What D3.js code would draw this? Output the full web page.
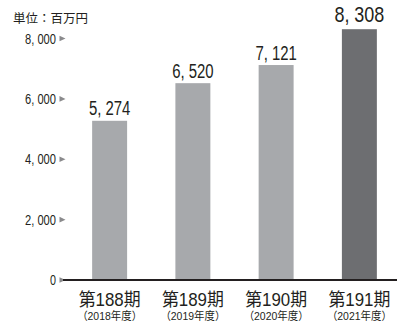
<!DOCTYPE html>
<html><head><meta charset="utf-8">
<script src="https://cdn.jsdelivr.net/npm/d3@7"></script>
<style>
body{margin:0;background:#fff;}
svg{display:block;}
</style></head>
<body>
<svg id="chart" width="397" height="324"></svg>
<script>
const categories = ["第188期","第189期","第190期","第191期"];
const years = ["（2018年度）","（2019年度）","（2020年度）","（2021年度）"];
const values = [5274, 6520, 7121, 8308];
const tickValues = [0, 2000, 4000, 6000, 8000];
const unitLabel = "単位：百万円";

const svg = d3.select("#chart");
const mixed = "'Liberation Sans','Noto Sans CJK JP',sans-serif";
const fmt = v => v === 0 ? "0" : d3.format(",")(v).replace(",", ", ");

const x = d3.scaleBand().domain(categories).range([68, 401]).paddingInner(0.58).paddingOuter(0.29);
const y = d3.scaleLinear().domain([0, 8000]).range([280, 38.5]);

// unit label
svg.append("text").attr("x", 13).attr("y", 23)
  .attr("font-family", "'Noto Sans CJK JP',sans-serif").attr("font-size", 12.5)
  .attr("fill", "#231f20").text(unitLabel);

// y ticks
const tg = svg.append("g").selectAll("g").data(tickValues).join("g")
  .attr("transform", d => `translate(0,${y(d)})`);
tg.append("text").attr("x", 56).attr("y", 5).attr("text-anchor", "end")
  .attr("font-family", mixed).attr("font-size", 14).attr("fill", "#231f20")
  .attr("textLength", d => d === 0 ? 6 : 31).attr("lengthAdjust", "spacingAndGlyphs")
  .text(fmt);
tg.append("path").attr("d", "M59.5,-2.8L65.5,0L59.5,2.8Z").attr("fill", "#8a8a8c");

// bars
svg.append("g").selectAll("rect").data(values).join("rect")
  .attr("x", (d, i) => x(categories[i]))
  .attr("width", x.bandwidth())
  .attr("y", d => y(d))
  .attr("height", d => y(0) - y(d))
  .attr("fill", (d, i) => i === values.length - 1 ? "#6d6e71" : "#a7a9ac");

// value labels
const last = values.length - 1;
svg.append("g").selectAll("text").data(values).join("text")
  .attr("x", (d, i) => x(categories[i]) + x.bandwidth() / 2)
  .attr("y", (d, i) => y(d) - (i === last ? 7 : 5.5))
  .attr("text-anchor", "middle")
  .attr("font-family", mixed)
  .attr("font-size", (d, i) => i === last ? 22 : 19.5)
  .attr("textLength", (d, i) => i === last ? 50 : 41.5)
  .attr("lengthAdjust", "spacingAndGlyphs")
  .attr("fill", "#231f20")
  .text(fmt);

// baseline
svg.append("line").attr("x1", 63).attr("x2", 397).attr("y1", y(0)).attr("y2", y(0))
  .attr("stroke", "#231f20").attr("stroke-width", 2);

// category labels
svg.append("g").selectAll("text").data(categories).join("text")
  .attr("x", d => x(d) + x.bandwidth() / 2)
  .attr("y", 306)
  .attr("text-anchor", "middle")
  .attr("font-family", mixed).attr("font-size", 18.5).attr("fill", "#231f20")
  .attr("textLength", 62).attr("lengthAdjust", "spacingAndGlyphs")
  .text(d => d);

svg.append("g").selectAll("text").data(years).join("text")
  .attr("x", (d, i) => x(categories[i]) + x.bandwidth() / 2)
  .attr("y", 320)
  .attr("text-anchor", "middle")
  .attr("font-family", mixed).attr("font-size", 11).attr("fill", "#231f20")
  .attr("textLength", 65).attr("lengthAdjust", "spacingAndGlyphs")
  .text(d => d);
</script>
</body></html>
